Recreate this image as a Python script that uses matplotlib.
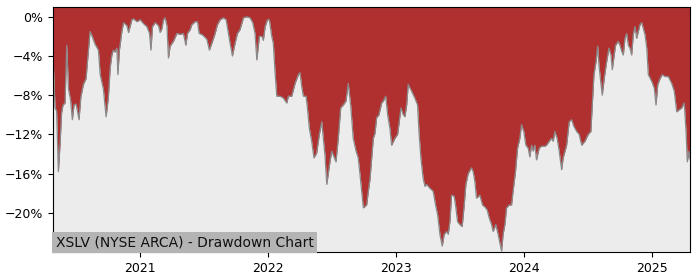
import matplotlib
matplotlib.use("Agg")
import matplotlib.pyplot as plt
import matplotlib.ticker as mticker
import matplotlib.dates as mdates
import numpy as np
import pandas as pd

# decimal years and drawdown (%)
years = [
    2020.320, 2020.336, 2020.348, 2020.362, 2020.375, 2020.387, 2020.398, 2020.414, 2020.427, 2020.441,
    2020.457, 2020.471, 2020.484, 2020.500, 2020.523, 2020.537, 2020.557, 2020.578, 2020.588, 2020.609,
    2020.623, 2020.648, 2020.674, 2020.688, 2020.713, 2020.734, 2020.752, 2020.766, 2020.779, 2020.791,
    2020.805, 2020.818, 2020.826, 2020.838, 2020.857, 2020.870, 2020.896, 2020.909, 2020.935, 2020.948,
    2020.974, 2021.000, 2021.026, 2021.052, 2021.073, 2021.084, 2021.096, 2021.117, 2021.143, 2021.156,
    2021.170, 2021.182, 2021.195, 2021.209, 2021.221, 2021.234, 2021.260, 2021.287, 2021.313, 2021.338,
    2021.357, 2021.370, 2021.391, 2021.404, 2021.430, 2021.448, 2021.461, 2021.482, 2021.500, 2021.521,
    2021.541, 2021.560, 2021.586, 2021.604, 2021.625, 2021.651, 2021.672, 2021.690, 2021.703, 2021.721,
    2021.742, 2021.760, 2021.781, 2021.807, 2021.834, 2021.859, 2021.880, 2021.898, 2021.912, 2021.932,
    2021.951, 2021.963, 2021.977, 2021.995, 2022.010, 2022.029, 2022.041, 2022.055, 2022.068, 2022.094,
    2022.120, 2022.146, 2022.159, 2022.185, 2022.211, 2022.237, 2022.250, 2022.263, 2022.276, 2022.297,
    2022.307, 2022.323, 2022.341, 2022.359, 2022.380, 2022.401, 2022.420, 2022.432, 2022.445, 2022.459,
    2022.484, 2022.498, 2022.510, 2022.531, 2022.549, 2022.568, 2022.588, 2022.609, 2022.627, 2022.646,
    2022.666, 2022.688, 2022.705, 2022.719, 2022.745, 2022.771, 2022.784, 2022.797, 2022.823, 2022.836,
    2022.849, 2022.867, 2022.888, 2022.901, 2022.920, 2022.935, 2022.953, 2022.966, 2022.992, 2023.013,
    2023.023, 2023.039, 2023.057, 2023.070, 2023.084, 2023.096, 2023.123, 2023.148, 2023.169, 2023.180,
    2023.195, 2023.213, 2023.227, 2023.240, 2023.266, 2023.291, 2023.310, 2023.326, 2023.344, 2023.362,
    2023.377, 2023.396, 2023.409, 2023.422, 2023.435, 2023.455, 2023.466, 2023.482, 2023.500, 2023.518,
    2023.534, 2023.547, 2023.565, 2023.591, 2023.604, 2023.617, 2023.630, 2023.656, 2023.677, 2023.695,
    2023.713, 2023.729, 2023.748, 2023.760, 2023.781, 2023.799, 2023.826, 2023.838, 2023.852, 2023.865,
    2023.885, 2023.904, 2023.916, 2023.935, 2023.951, 2023.969, 2023.982, 2024.000, 2024.016, 2024.034,
    2024.047, 2024.060, 2024.073, 2024.086, 2024.099, 2024.120, 2024.138, 2024.164, 2024.177, 2024.198,
    2024.216, 2024.229, 2024.242, 2024.260, 2024.276, 2024.295, 2024.307, 2024.334, 2024.354, 2024.373,
    2024.391, 2024.412, 2024.432, 2024.451, 2024.477, 2024.502, 2024.523, 2024.534, 2024.547, 2024.563,
    2024.576, 2024.586, 2024.602, 2024.612, 2024.627, 2024.646, 2024.664, 2024.680, 2024.690, 2024.705,
    2024.716, 2024.737, 2024.750, 2024.763, 2024.776, 2024.789, 2024.802, 2024.815, 2024.828, 2024.841,
    2024.854, 2024.867, 2024.880, 2024.893, 2024.906, 2024.920, 2024.932, 2024.945, 2024.959, 2024.971,
    2024.998, 2025.018, 2025.031, 2025.045, 2025.063, 2025.080, 2025.102, 2025.127, 2025.154, 2025.174,
    2025.193, 2025.211, 2025.232, 2025.252, 2025.266, 2025.276, 2025.289, 2025.297,
]
drawdown = [
    -4.0, -9.3, -9.6, -15.8, -13.0, -9.8, -9.0, -8.8, -2.9, -7.4,
    -8.5, -10.5, -9.0, -8.9, -10.5, -8.2, -6.9, -6.3, -4.7, -1.5,
    -1.9, -2.8, -3.4, -5.9, -7.4, -10.2, -8.2, -5.2, -3.9, -3.4,
    -3.6, -3.2, -5.9, -3.4, -1.5, -0.6, -0.9, -1.6, -0.3, -0.2,
    -0.5, -0.3, -0.7, -1.0, -1.7, -3.4, -1.0, -0.6, -0.9, -1.6,
    -1.2, -0.3, -0.1, -0.9, -4.2, -3.0, -2.5, -1.7, -1.8, -1.7,
    -2.9, -1.7, -1.3, -0.8, -0.5, -0.5, -1.7, -1.8, -2.0, -2.3,
    -3.4, -2.7, -1.7, -0.8, -0.3, -0.1, -0.3, -1.7, -2.7, -4.0,
    -2.7, -1.7, -1.3, -0.1, 0.0, -0.1, -0.6, -1.7, -4.4, -2.0,
    -2.0, -2.4, -1.0, -0.3, -0.3, -2.0, -2.7, -5.7, -8.1, -8.1,
    -8.3, -8.8, -8.1, -8.1, -6.8, -5.9, -5.7, -7.1, -8.1, -8.1,
    -9.2, -11.4, -12.7, -14.4, -13.9, -12.0, -10.7, -12.4, -14.1, -17.1,
    -14.8, -13.7, -14.1, -14.8, -12.4, -9.3, -9.0, -8.6, -6.8, -9.0,
    -12.4, -13.7, -14.4, -16.1, -19.5, -19.2, -17.8, -16.6, -12.4, -11.9,
    -10.3, -10.0, -8.8, -8.6, -8.1, -10.0, -11.4, -13.1, -12.4, -12.0,
    -11.0, -9.3, -10.0, -10.2, -9.0, -6.9, -7.6, -8.3, -9.0, -11.7,
    -14.4, -16.5, -17.3, -17.1, -17.5, -17.8, -19.2, -20.2, -22.2, -23.4,
    -22.2, -21.9, -22.2, -20.9, -18.2, -18.3, -19.2, -20.9, -21.2, -21.4,
    -19.2, -17.1, -16.0, -15.4, -15.8, -16.8, -18.5, -18.2, -19.2, -19.4,
    -19.7, -20.5, -21.2, -21.9, -21.2, -22.2, -23.9, -22.2, -21.2, -19.5,
    -19.2, -19.2, -17.8, -15.8, -13.4, -12.4, -11.0, -11.7, -13.1, -13.4,
    -14.3, -13.1, -13.7, -13.1, -14.6, -13.4, -13.2, -13.2, -13.1, -12.7,
    -12.4, -12.7, -11.7, -12.4, -13.7, -15.6, -14.4, -13.1, -10.7, -10.5,
    -11.2, -11.7, -12.0, -13.1, -12.7, -12.0, -11.7, -9.0, -5.9, -4.6,
    -3.0, -4.9, -6.9, -8.0, -6.3, -4.6, -3.2, -3.9, -5.4, -3.9,
    -2.9, -2.5, -2.9, -3.5, -3.9, -2.2, -1.7, -2.9, -3.2, -3.9,
    -1.8, -1.0, -2.2, -1.5, -0.8, -0.6, -1.2, -1.8, -3.2, -5.9,
    -6.6, -7.3, -9.0, -6.9, -6.3, -5.9, -6.1, -6.1, -6.8, -7.6,
    -9.7, -9.5, -9.3, -8.8, -11.7, -14.8, -13.7, -14.5,
]
ytick_values = [0, -4, -8, -12, -16, -20]
title_text = "XSLV (NYSE ARCA) - Drawdown Chart"


def to_date(y):
    yr = int(np.floor(y))
    start = pd.Timestamp(year=yr, month=1, day=1)
    end = pd.Timestamp(year=yr + 1, month=1, day=1)
    return start + (end - start) * (y - yr)


dates = [to_date(y) for y in years]
values = np.array(drawdown)

fig = plt.figure(figsize=(7, 2.8), dpi=100)
ax = fig.add_axes([53 / 700, 1 - 252 / 280, (690 - 53) / 700, (252 - 7) / 280])
ax.set_facecolor("#ececec")

y_top = 1
ax.fill_between(dates, values, y_top, color="#b03030", linewidth=0)
ax.plot(dates, values, color="#8a8a8a", linewidth=0.9)

ax.set_xlim(dates[0], dates[-1])
ax.set_ylim(-24, y_top)
ax.set_yticks(ytick_values)
ax.yaxis.set_major_formatter(mticker.FuncFormatter(lambda v, p: f"{v:.0f}%".replace("-", "\u2212")))

ax.xaxis.set_major_locator(mdates.YearLocator())
ax.xaxis.set_major_formatter(mdates.DateFormatter("%Y"))
ax.tick_params(labelsize=9)

ax.text(0.004, 0.012, title_text, transform=ax.transAxes, fontsize=10,
        ha="left", va="bottom", color="#111111",
        bbox=dict(boxstyle="square,pad=0.25", facecolor="#b4b4b4", edgecolor="none"))

fig.savefig("out.png", dpi=100)
